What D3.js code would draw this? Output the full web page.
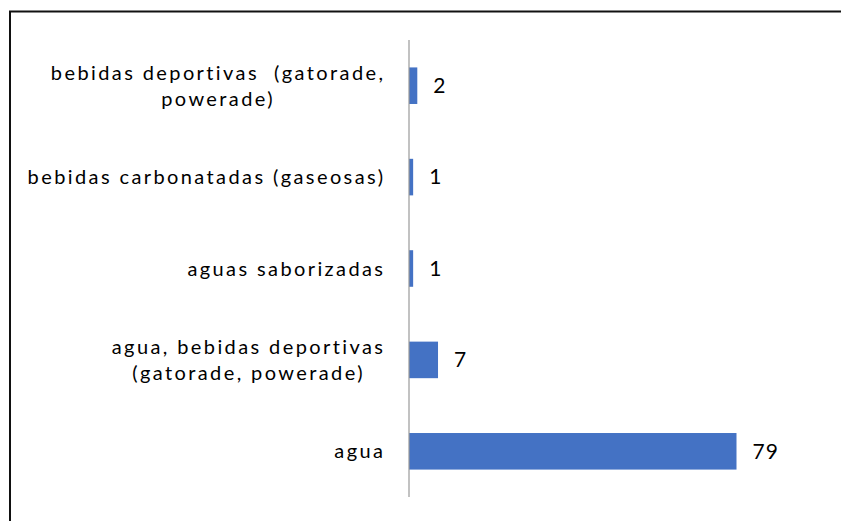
<!DOCTYPE html>
<html>
<head>
<meta charset="utf-8">
<script src="https://cdn.jsdelivr.net/npm/d3@7"></script>
<style>
  body { margin: 0; background: #fff; }
  text { font-family: Lato, "Open Sans", sans-serif; fill: #000; white-space: pre; }
</style>
</head>
<body>
<div id="chart"></div>
<script>
// categories top to bottom, each label split in lines
let categories = [
  ["bebidas deportivas  (gatorade,", "powerade)"],
  ["bebidas carbonatadas (gaseosas)"],
  ["aguas saborizadas"],
  ["agua, bebidas deportivas", "(gatorade, powerade)"],
  ["agua"]
]
let values = [2, 1, 1, 7, 79]

var width = 841, height = 521
var margin = {top: 40, bottom: 24, axisX: 409}
var spacing = 2.4
var labelRight = 383

var svg = d3.select("#chart")
  .append("svg")
  .attr("width", width)
  .attr("height", height)

// frame around the picture
svg.append("path")
  .attr("d", "M10,521 V11.5 H841")
  .attr("fill", "none")
  .attr("stroke", "#111")
  .attr("stroke-width", 2)

var keys = categories.map((c, i) => i)

var y = d3.scaleBand()
  .domain(keys)
  .range([margin.top, height - margin.bottom])
  .paddingInner(0.6)
  .paddingOuter(0.3)

var x = d3.scaleLinear()
  .domain([0, 79])
  .range([margin.axisX, 736.5])

// bars
svg.selectAll("rect.bar")
  .data(values)
  .enter().append("rect")
  .attr("class", "bar")
  .attr("x", x(0))
  .attr("y", (d, i) => y(i))
  .attr("width", d => x(d) - x(0))
  .attr("height", y.bandwidth())
  .attr("fill", "#4472c4")

// axis line
svg.append("line")
  .attr("x1", x(0)).attr("x2", x(0))
  .attr("y1", margin.top).attr("y2", height - margin.bottom)
  .attr("stroke", "#999")
  .attr("stroke-width", 1.2)

// category labels: block right aligned, lines centred inside it
categories.forEach(function(lines, i) {
  var cy = y(i) + y.bandwidth() / 2
  var t = svg.append("text")
    .style("font-size", "20px")
    .style("letter-spacing", spacing + "px")
  var spans = lines.map(function(l, j) {
    return t.append("tspan")
      .attr("y", cy + (j - (lines.length - 1) / 2) * 26)
      .attr("dy", "0.35em")
      .text(l)
  })
  var widths = spans.map(s => s.node().getComputedTextLength() - spacing)
  var maxW = d3.max(widths)
  spans.forEach(function(s, j) {
    s.attr("x", labelRight - maxW + (maxW - widths[j]) / 2)
  })
})

// value labels
svg.selectAll("text.val")
  .data(values)
  .enter().append("text")
  .attr("class", "val")
  .attr("x", d => x(d) + 16)
  .attr("y", (d, i) => y(i) + y.bandwidth() / 2)
  .attr("dy", "0.35em")
  .style("font-size", "21px")
  .style("letter-spacing", "1px")
  .text(d => d)
</script>
</body>
</html>
